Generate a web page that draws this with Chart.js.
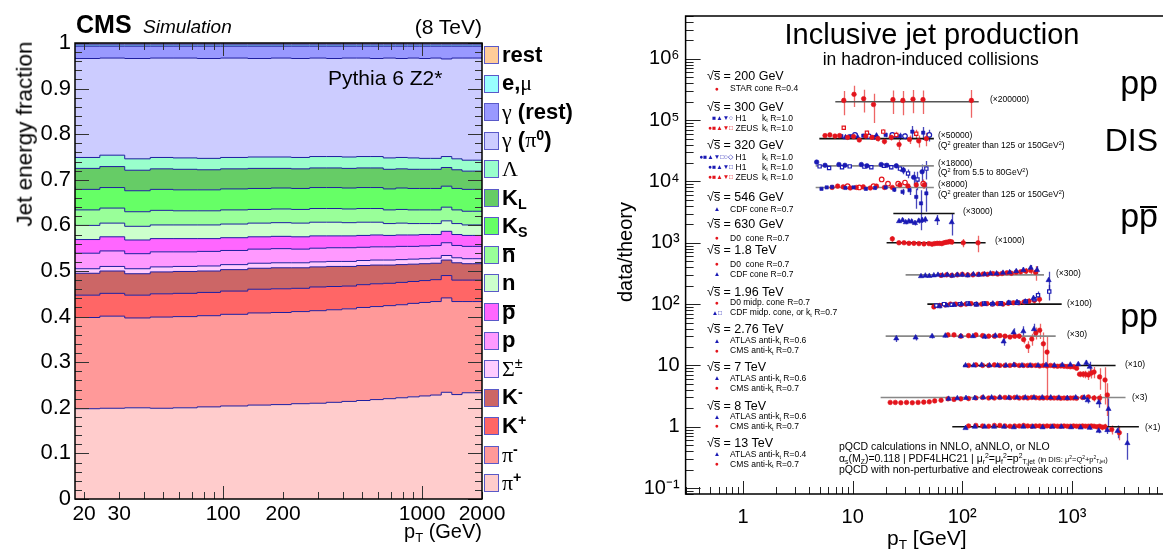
<!DOCTYPE html>
<html>
<head>
<meta charset="utf-8">
<title>Jet energy fractions / Inclusive jet production</title>
<script src="https://cdn.jsdelivr.net/npm/chart.js@4.4.1/dist/chart.umd.min.js"></script>
<style>
html,body{margin:0;padding:0;}
body{width:1163px;height:552px;overflow:hidden;background:#fff;position:relative;font-family:"Liberation Sans",Arial,Helvetica,sans-serif;color:#000;}
canvas{position:absolute;top:0;}
.t{position:absolute;white-space:nowrap;line-height:1;}
.g{font-family:"Liberation Serif","DejaVu Serif",serif;font-weight:normal;}
.sup{font-size:65%;position:relative;top:-0.55em;}
.sub{font-size:65%;position:relative;top:0.3em;}
.ov{position:relative;}
.ov::after{content:"";position:absolute;left:6%;right:6%;top:0.3em;border-top:2px solid #000;}
.rad{position:relative;}
.rad::after{content:"";position:absolute;left:0;right:0;top:0.16em;border-top:1px solid #000;}
.box{position:absolute;width:15px;height:18px;border:1px solid #5a5ac8;box-sizing:border-box;}
</style>
</head>
<body>
<canvas id="cL" width="600" height="552" style="left:0"></canvas>
<canvas id="cR" width="600" height="552" style="left:600px"></canvas>
<script>
// ================= LEFT PANEL DATA (CMS simulation, jet energy fractions) =================
const ptEdges = [18, 24, 32, 43, 56, 74, 97, 133, 174, 220, 272, 330, 395, 468, 548, 638, 737, 846, 967, 1101, 1248, 1410, 1588, 1784, 2000];
const fracPiPlus  = [0.201,0.198,0.199,0.200,0.199,0.200,0.202,0.204,0.206,0.207,0.209,0.210,0.212,0.214,0.216,0.218,0.220,0.222,0.224,0.226,0.228,0.234,0.229,0.233];
const fracPiMinus = [0.200,0.200,0.202,0.197,0.200,0.200,0.200,0.201,0.202,0.202,0.202,0.203,0.203,0.203,0.204,0.204,0.204,0.204,0.205,0.205,0.205,0.207,0.204,0.200];
const fracKPlus   = [0.048,0.049,0.050,0.050,0.051,0.051,0.051,0.051,0.052,0.052,0.051,0.052,0.051,0.050,0.050,0.050,0.049,0.049,0.048,0.048,0.048,0.049,0.047,0.047];
const fracKMinus  = [0.049,0.048,0.049,0.047,0.048,0.048,0.047,0.047,0.046,0.046,0.045,0.044,0.044,0.043,0.042,0.041,0.040,0.039,0.038,0.037,0.036,0.034,0.038,0.036];
const fracSigma   = [0.011,0.010,0.010,0.011,0.011,0.011,0.011,0.011,0.011,0.011,0.011,0.011,0.011,0.011,0.011,0.011,0.011,0.011,0.011,0.011,0.011,0.010,0.011,0.011];
const fracP       = [0.033,0.034,0.034,0.033,0.033,0.032,0.032,0.031,0.031,0.031,0.030,0.030,0.030,0.030,0.029,0.029,0.029,0.029,0.028,0.028,0.028,0.028,0.027,0.027];
const fracPbar    = [0.031,0.030,0.031,0.030,0.029,0.029,0.028,0.028,0.027,0.027,0.027,0.027,0.026,0.026,0.026,0.026,0.025,0.025,0.025,0.025,0.024,0.025,0.024,0.024];
const fracN       = [0.031,0.031,0.030,0.030,0.030,0.030,0.030,0.030,0.030,0.030,0.030,0.030,0.030,0.029,0.029,0.028,0.026,0.026,0.025,0.024,0.024,0.023,0.024,0.023];
const fracNbar    = [0.037,0.034,0.033,0.032,0.032,0.031,0.031,0.031,0.030,0.030,0.030,0.030,0.030,0.030,0.030,0.030,0.030,0.030,0.030,0.030,0.030,0.030,0.030,0.030];
const fracKS      = [0.044,0.045,0.045,0.046,0.046,0.046,0.046,0.046,0.046,0.046,0.046,0.046,0.046,0.046,0.046,0.046,0.046,0.047,0.047,0.047,0.047,0.046,0.047,0.048];
const fracKL      = [0.052,0.046,0.046,0.045,0.045,0.045,0.044,0.044,0.044,0.043,0.043,0.043,0.043,0.043,0.043,0.043,0.043,0.042,0.042,0.042,0.042,0.041,0.041,0.040];
const fracLambda  = [0.026,0.024,0.025,0.025,0.025,0.025,0.025,0.025,0.025,0.025,0.025,0.025,0.025,0.025,0.025,0.025,0.025,0.025,0.025,0.024,0.024,0.024,0.024,0.024];
const fracGamPi0  = [0.206,0.217,0.213,0.220,0.218,0.219,0.219,0.218,0.216,0.217,0.217,0.216,0.215,0.217,0.216,0.215,0.219,0.217,0.219,0.219,0.220,0.214,0.221,0.224];
const fracGamRest = [0.024,0.027,0.026,0.027,0.026,0.026,0.027,0.026,0.027,0.026,0.027,0.026,0.027,0.026,0.026,0.027,0.026,0.027,0.026,0.027,0.026,0.028,0.026,0.026];
const fracEMu     = [0.003,0.003,0.003,0.003,0.003,0.003,0.003,0.003,0.003,0.003,0.003,0.003,0.003,0.003,0.003,0.003,0.003,0.003,0.003,0.003,0.003,0.003,0.003,0.003];
const fracRest    = [0.004,0.004,0.004,0.004,0.004,0.004,0.004,0.004,0.004,0.004,0.004,0.004,0.004,0.004,0.004,0.004,0.004,0.004,0.004,0.004,0.004,0.004,0.004,0.004];
const yTickValsL = [0,0.1,0.2,0.3,0.4,0.5,0.6,0.7,0.8,0.9,1];
const yTickLabsL = ['0','0.1','0.2','0.3','0.4','0.5','0.6','0.7','0.8','0.9','1'];
const xTickValsL = [20,30,100,200,1000,2000];
const xTickLabsL = ['20','30','100','200','1000','2000'];

// species, stacked bottom -> top
const speciesFrac = [fracPiPlus,fracPiMinus,fracKPlus,fracKMinus,fracSigma,fracP,fracPbar,fracN,fracNbar,fracKS,fracKL,fracLambda,fracGamPi0,fracGamRest,fracEMu,fracRest];
const speciesName = ['π+','π-','K+','K-','Σ±','p','p̄','n','n̄','K_S','K_L','Λ','γ (π0)','γ (rest)','e,μ','rest'];
const speciesColor = ['#ffcccc','#ff9999','#ff6666','#cc6666','#ffccff','#ff99ff','#ff66ff','#ccffcc','#99ff99','#66ff66','#66cc66','#99ffcc','#ccccff','#9999ff','#99ffff','#ffcc99'];
const speciesHTML = [
 '<span class="g">π</span><span class="sup"><b>+</b></span>',
 '<span class="g">π</span><span class="sup"><b>-</b></span>',
 '<b>K</b><span class="sup"><b>+</b></span>',
 '<b>K</b><span class="sup"><b>-</b></span>',
 '<span class="g">Σ</span><span class="sup">±</span>',
 '<b>p</b>',
 '<b class="ov">p</b>',
 '<b>n</b>',
 '<b class="ov">n</b>',
 '<b>K<span class="sub">S</span></b>',
 '<b>K<span class="sub">L</span></b>',
 '<span class="g">Λ</span>',
 '<span class="g">γ</span> <b>(</b><span class="g">π</span><span class="sup"><b>0</b></span><b>)</b>',
 '<span class="g">γ</span> <b>(rest)</b>',
 '<b>e,</b><span class="g">μ</span>',
 '<b>rest</b>'
];

// ================= RIGHT PANEL DATA (data/theory, inclusive jets) =================
// pT [GeV], ratio data/theory, uncertainty on the ratio; plotted ratio x scale factor
const STAR200_pt = [8.3, 10.3, 12.6, 15.5, 23.3, 28.7, 35.5, 43.8, 121];
const STAR200_r  = [1.05, 1.32, 1.12, 0.9, 1.08, 1.05, 1.1, 1.08, 1.05];
const STAR200_e  = [0.45, 0.5, 0.45, 0.45, 0.45, 0.45, 0.45, 0.45, 0.5];

const H1_300_pt  = [7.9, 9.5, 12.5, 15.5, 20, 27, 35, 44];
const H1_300_r   = [1.1, 1.1, 1.12, 1.05, 1.15, 1.1, 1.3, 1.25];
const H1_300_e   = [0.06, 0.06, 0.08, 0.08, 0.1, 0.15, 0.3, 0.3];
const H1o_300_pt = [10.5, 14, 23, 30, 50];
const H1o_300_r  = [1.15, 1.1, 1.15, 1.1, 1.15];
const H1o_300_e  = [0.08, 0.08, 0.1, 0.12, 0.25];
const H1t_300_pt = [8.6, 11, 16.5, 25];
const H1t_300_r  = [1.05, 1.08, 1.12, 1.1];
const H1t_300_e  = [0.06, 0.07, 0.08, 0.1];
const ZEUS_300_pt = [5.6, 6.2, 6.9, 7.6, 9.0, 10.2, 11.5, 13.2, 15.0, 17.0, 19.5, 22.5, 26.5, 33, 40, 47];
const ZEUS_300_r  = [1.12, 1.15, 1.1, 1.12, 1.05, 1.08, 0.95, 1.1, 1.05, 1.0, 0.9, 1.05, 0.8, 0.97, 0.92, 1.0];
const ZEUS_300_e  = [0.06, 0.06, 0.06, 0.06, 0.06, 0.07, 0.07, 0.08, 0.08, 0.1, 0.1, 0.12, 0.15, 0.15, 0.2, 0.25];
const ZEUSo_300_pt = [8.3, 13.5, 19, 25, 38];
const ZEUSo_300_r  = [1.5, 1.25, 1.3, 1.15, 1.2];
const ZEUSo_300_e  = [0.1, 0.1, 0.12, 0.15, 0.2];

const H1a_320_pt = [4.7, 5.6, 7.5, 8.5, 12, 13.5, 18.2, 20.5, 25, 29, 36, 43];
const H1a_320_r  = [1.15, 1.02, 1.05, 1.02, 1.05, 1.0, 1.05, 1.02, 1.0, 0.85, 0.65, 0.8];
const H1a_320_e  = [0.04, 0.04, 0.04, 0.04, 0.05, 0.05, 0.06, 0.06, 0.08, 0.12, 0.15, 0.25];
const H1b_320_pt = [5.0, 6.1, 8.0, 9.4, 12.8, 14.8, 19.3, 22.5, 27, 32, 39, 47];
const H1b_320_r  = [0.98, 0.92, 0.95, 0.98, 0.97, 0.95, 1.0, 0.95, 0.9, 0.75, 0.6, 0.9];
const H1b_320_e  = [0.04, 0.05, 0.05, 0.05, 0.05, 0.06, 0.06, 0.07, 0.1, 0.12, 0.2, 0.3];

const ZEUS_320_pt = [6.5, 7.3, 8.2, 9.5, 10.8, 12.5, 14.5, 16.5, 19.5, 23, 27, 32, 38, 45];
const ZEUS_320_r  = [1.0, 1.05, 1.02, 0.98, 1.0, 1.02, 0.98, 1.05, 1.0, 1.0, 1.1, 1.05, 1.1, 1.1];
const ZEUS_320_e  = [0.04, 0.04, 0.04, 0.04, 0.04, 0.04, 0.05, 0.05, 0.06, 0.07, 0.08, 0.1, 0.12, 0.15];
const ZEUSo_320_pt = [9, 11.5, 15.5, 18.4, 21, 26, 30, 44];
const ZEUSo_320_r  = [1.05, 1.0, 1.05, 1.35, 1.15, 1.15, 1.2, 1.15];
const ZEUSo_320_e  = [0.05, 0.05, 0.06, 0.08, 0.08, 0.1, 0.12, 0.2];
const H1hq_320_pt = [5.2, 5.8, 6.5, 8.6, 10.2, 13.2, 16, 20, 24, 28.5, 33, 38, 42, 47];
const H1hq_320_r  = [0.95, 1.0, 1.02, 0.98, 1.0, 0.95, 0.98, 1.0, 0.92, 0.85, 0.9, 0.7, 0.55, 0.8];
const H1hq_320_e  = [0.04, 0.04, 0.04, 0.04, 0.05, 0.05, 0.06, 0.07, 0.08, 0.1, 0.15, 0.25, 0.35, 0.4];

const CDF546_pt = [26.5, 28.5, 30.5, 32.5, 34.5, 37, 40, 43, 46, 59, 80];
const CDF546_r  = [0.75, 0.78, 0.72, 0.75, 0.74, 0.7, 0.76, 0.78, 0.8, 0.8, 0.72];
const CDF546_e  = [0.05, 0.05, 0.05, 0.05, 0.06, 0.06, 0.07, 0.08, 0.09, 0.15, 0.28];

const D0630_pt = [23, 26.4, 29.4, 32.6, 36.2, 40.2, 44.7, 49.6, 53, 56, 59, 62, 65, 68, 71, 74, 77, 80, 102, 139];
const D0630_r  = [1.16, 1.0, 1.0, 0.98, 0.98, 0.97, 0.96, 0.97, 0.95, 0.97, 0.98, 0.98, 0.97, 1.0, 1.02, 1.03, 1.05, 1.03, 1.0, 1.0];
const D0630_e  = [0.12, 0.08, 0.06, 0.06, 0.05, 0.05, 0.05, 0.05, 0.06, 0.06, 0.06, 0.06, 0.07, 0.07, 0.08, 0.08, 0.1, 0.1, 0.15, 0.3];

const D01800_pt = [64, 72, 80, 90, 100, 112, 125, 140, 155, 170, 190, 210, 230, 255, 280, 310, 340, 380, 420, 465];
const D01800_r  = [0.98, 1.0, 0.98, 1.0, 1.02, 1.0, 1.0, 1.02, 1.03, 1.02, 1.05, 1.03, 1.05, 1.08, 1.06, 1.1, 1.12, 1.15, 1.18, 1.1];
const D01800_e  = [0.05, 0.05, 0.05, 0.05, 0.05, 0.05, 0.05, 0.05, 0.06, 0.06, 0.06, 0.07, 0.07, 0.08, 0.09, 0.1, 0.12, 0.14, 0.18, 0.3];
const CDF1800_pt = [42, 46, 50, 55, 60, 66, 73, 81, 90, 100, 112, 126, 142, 160, 180, 205, 235, 270, 310, 360, 420, 480, 612];
const CDF1800_r  = [0.95, 0.97, 0.96, 0.98, 1.0, 0.98, 1.0, 0.97, 1.0, 1.0, 0.98, 1.02, 1.0, 1.02, 1.05, 1.05, 1.08, 1.1, 1.15, 1.2, 1.3, 1.2, 0.82];
const CDF1800_e  = [0.04, 0.04, 0.04, 0.04, 0.04, 0.04, 0.04, 0.04, 0.04, 0.04, 0.05, 0.05, 0.05, 0.06, 0.06, 0.07, 0.08, 0.09, 0.1, 0.12, 0.15, 0.2, 0.3];

const D01960_pt = [55, 62, 70, 78, 87, 97, 108, 120, 134, 150, 168, 188, 210, 235, 262, 292, 326, 364, 406, 453, 505];
const D01960_r  = [0.9, 0.95, 0.97, 1.0, 1.0, 0.98, 1.0, 1.02, 1.0, 1.0, 1.02, 1.0, 1.02, 1.0, 1.03, 1.05, 1.05, 1.08, 1.12, 1.15, 1.2];
const D01960_e  = [0.06, 0.05, 0.05, 0.05, 0.05, 0.05, 0.05, 0.05, 0.05, 0.05, 0.05, 0.05, 0.06, 0.06, 0.07, 0.08, 0.09, 0.1, 0.12, 0.15, 0.2];
const CDFt1960_pt = [62, 72, 84, 98, 115, 135, 160, 190, 225, 265, 315, 375, 445];
const CDFt1960_r  = [0.92, 0.95, 0.97, 1.0, 1.0, 0.98, 1.0, 1.02, 1.0, 1.05, 1.08, 1.1, 1.25];
const CDFt1960_e  = [0.06, 0.05, 0.05, 0.05, 0.05, 0.05, 0.05, 0.06, 0.06, 0.07, 0.08, 0.1, 0.15];
const CDFs1960_pt = [58, 68, 80, 95, 112, 133, 158, 188, 224, 267, 318, 380, 454, 490, 620];
const CDFs1960_r  = [0.95, 1.0, 0.98, 1.0, 1.02, 1.0, 1.02, 1.0, 1.03, 1.05, 1.05, 1.1, 1.2, 1.4, 1.6];
const CDFs1960_e  = [0.06, 0.05, 0.05, 0.05, 0.05, 0.05, 0.05, 0.05, 0.06, 0.06, 0.07, 0.08, 0.12, 0.2, 0.45];

const ATLAS2760_pt = [25, 37.5, 53, 70, 97, 125, 160, 200, 238, 293, 360, 450];
const ATLAS2760_r  = [0.92, 0.95, 1.0, 1.02, 1.0, 1.0, 0.98, 1.02, 0.82, 1.15, 1.2, 1.3];
const ATLAS2760_e  = [0.12, 0.1, 0.08, 0.07, 0.06, 0.06, 0.08, 0.1, 0.12, 0.2, 0.25, 0.3];
const CMS2760_pt = [74, 84, 97, 114, 133, 153, 174, 196, 220, 245, 272, 300, 330, 362, 395, 430, 468, 507, 548, 592];
const CMS2760_r  = [1.05, 1.05, 1.0, 1.02, 1.05, 1.02, 1.0, 1.0, 1.02, 1.0, 0.97, 1.0, 1.0, 0.88, 0.68, 0.9, 1.13, 1.25, 0.75, 0.55];
const CMS2760_e  = [0.05, 0.05, 0.05, 0.05, 0.05, 0.05, 0.05, 0.06, 0.06, 0.07, 0.08, 0.09, 0.1, 0.12, 0.15, 0.2, 0.25, 0.35, 0.4, 0.46];

const CMS7000_pt = [114, 133, 153, 174, 196, 220, 245, 272, 300, 330, 362, 395, 430, 468, 507, 548, 592, 638, 686, 737, 790, 846, 905, 967, 1032, 1101, 1172, 1248, 1327, 1410, 1497, 1588, 1784, 2000];
const CMS7000_r  = [1.0, 1.02, 1.0, 1.0, 1.02, 1.0, 1.0, 1.0, 1.02, 1.0, 1.0, 1.0, 1.0, 1.0, 0.98, 1.0, 0.98, 1.0, 0.98, 0.97, 0.98, 0.97, 0.96, 0.95, 0.95, 0.9, 0.72, 0.72, 0.72, 0.7, 0.75, 0.78, 0.65, 0.58];
const CMS7000_e  = [0.04, 0.03, 0.03, 0.03, 0.03, 0.03, 0.03, 0.03, 0.03, 0.03, 0.03, 0.03, 0.03, 0.03, 0.03, 0.03, 0.03, 0.03, 0.04, 0.04, 0.04, 0.04, 0.05, 0.05, 0.06, 0.07, 0.08, 0.09, 0.1, 0.12, 0.14, 0.16, 0.25, 0.35];
const ATLAS7000_pt = [107, 127, 150, 177, 210, 250, 295, 350, 415, 490, 580, 690, 815, 965, 1140, 1350, 1450];
const ATLAS7000_r  = [1.0, 1.0, 1.02, 1.0, 1.0, 1.0, 1.02, 1.0, 1.0, 1.0, 1.02, 1.0, 1.02, 1.03, 1.05, 1.1, 0.95];
const ATLAS7000_e  = [0.04, 0.03, 0.03, 0.03, 0.03, 0.03, 0.03, 0.03, 0.03, 0.03, 0.04, 0.04, 0.05, 0.06, 0.08, 0.12, 0.2];

const CMS8000_pt = [22, 24.5, 27.5, 31, 35, 39.5, 44.5, 50, 56, 64, 74, 84, 97, 114, 133, 153, 174, 196, 220, 245, 272, 300, 330, 362, 395, 430, 468, 507, 548, 592, 638, 686, 737, 790, 846, 905, 967, 1032, 1101, 1248, 1410, 1588, 1784, 2100];
const CMS8000_r  = [0.83, 0.83, 0.82, 0.83, 0.82, 0.83, 0.84, 0.85, 0.88, 0.9, 0.95, 0.93, 0.95, 0.96, 0.98, 1.0, 0.98, 0.98, 1.0, 1.0, 0.99, 1.0, 0.98, 0.99, 0.98, 1.0, 0.99, 0.98, 0.98, 0.99, 0.98, 0.98, 0.98, 0.97, 0.98, 0.97, 0.98, 0.98, 0.97, 1.0, 1.02, 0.98, 0.98, 1.1];
const CMS8000_e  = [0.05, 0.05, 0.05, 0.05, 0.05, 0.05, 0.05, 0.05, 0.05, 0.05, 0.05, 0.05, 0.04, 0.04, 0.04, 0.04, 0.03, 0.03, 0.03, 0.03, 0.03, 0.03, 0.03, 0.03, 0.03, 0.03, 0.03, 0.03, 0.03, 0.03, 0.03, 0.03, 0.04, 0.04, 0.04, 0.04, 0.05, 0.05, 0.06, 0.07, 0.09, 0.12, 0.16, 0.6];
const ATLAS8000_pt = [75, 90, 108, 130, 155, 185, 220, 265, 315, 375, 450, 535, 640, 760, 905, 1080, 1290, 1390, 1750, 2150];
const ATLAS8000_r  = [0.95, 0.97, 0.98, 0.98, 1.0, 1.0, 1.0, 0.99, 1.0, 1.0, 1.0, 1.0, 1.0, 0.99, 0.98, 1.0, 1.0, 0.9, 0.83, 0.65];
const ATLAS8000_e  = [0.05, 0.04, 0.04, 0.04, 0.03, 0.03, 0.03, 0.03, 0.03, 0.03, 0.03, 0.03, 0.04, 0.04, 0.05, 0.06, 0.08, 0.1, 0.15, 0.32];

const ATLAS13000_pt = [107, 130, 160, 195, 240, 295, 360, 440, 540, 660, 800, 980, 1200, 1450, 1750, 2100, 2600, 3200];
const ATLAS13000_r  = [0.95, 1.0, 1.0, 1.0, 1.0, 0.98, 1.0, 1.0, 0.98, 1.0, 1.0, 0.98, 0.97, 0.96, 0.86, 0.88, 0.85, 0.54];
const ATLAS13000_e  = [0.05, 0.04, 0.04, 0.04, 0.04, 0.04, 0.04, 0.04, 0.04, 0.04, 0.04, 0.05, 0.05, 0.06, 0.08, 0.12, 0.2, 0.25];
const CMS13000_pt = [114, 133, 153, 174, 196, 220, 245, 272, 300, 330, 362, 395, 430, 468, 507, 548, 592, 638, 686, 737, 790, 846, 905, 967, 1032, 1101, 1172, 1248, 1327, 1410, 1497, 1588, 1684, 1784, 1890, 2000, 2300, 2700];
const CMS13000_r  = [1.03, 1.05, 1.03, 1.02, 1.05, 1.05, 1.03, 1.02, 1.03, 1.03, 1.05, 1.03, 1.02, 1.03, 1.03, 1.02, 1.03, 1.02, 1.03, 1.02, 1.02, 1.03, 1.02, 1.02, 1.03, 1.02, 1.02, 1.03, 1.02, 1.02, 1.03, 1.02, 1.0, 1.02, 0.98, 1.0, 0.9, 0.8];
const CMS13000_e  = [0.04, 0.03, 0.03, 0.03, 0.03, 0.03, 0.03, 0.03, 0.03, 0.03, 0.03, 0.03, 0.03, 0.03, 0.03, 0.03, 0.03, 0.03, 0.03, 0.03, 0.03, 0.03, 0.03, 0.03, 0.04, 0.04, 0.04, 0.05, 0.05, 0.06, 0.06, 0.07, 0.08, 0.09, 0.1, 0.12, 0.15, 0.2];

// theory reference lines: scale factor and pT range
const refScale = [200000, 50000, 18000, 8000, 3000, 1000, 300, 100, 30, 10, 3, 1];
const refFrom  = [6.95, 4.97, 4.6, 4.6, 23.5, 20.4, 30.4, 48, 20, 102, 18, 81];
const refTo    = [141, 55, 55, 55, 85, 163, 555, 805, 710, 2495, 3075, 4070];
const yTickValsR = [0.1, 1, 10, 100, 1000, 10000, 100000, 1000000];
const yTickLabsR = ['10⁻¹', '1', '10', '10²', '10³', '10⁴', '10⁵', '10⁶'];
const xTickValsR = [1, 10, 100, 1000];
const xTickLabsR = ['1', '10', '10²', '10³'];

// ================= STYLES =================
const FONT = "'Liberation Sans', Arial, Helvetica, sans-serif";
Chart.defaults.font.family = FONT;
const RED = '#e3141c', BLUE = '#1a1ab4';
const refColor = ['#555','#111','#888','#888','#111','#111','#888','#111','#888','#111','#888','#111'];

const seriesR = [
 {pt:STAR200_pt, r:STAR200_r, e:STAR200_e, k:200000, c:RED, ps:'circle'},
 {pt:ZEUS_300_pt, r:ZEUS_300_r, e:ZEUS_300_e, k:50000, c:RED, ps:'circle'},
 {pt:ZEUSo_300_pt, r:ZEUSo_300_r, e:ZEUSo_300_e, k:50000, c:RED, ps:'rect', open:true},
 {pt:H1_300_pt, r:H1_300_r, e:H1_300_e, k:50000, c:BLUE, ps:'rect'},
 {pt:H1o_300_pt, r:H1o_300_r, e:H1o_300_e, k:50000, c:BLUE, ps:'circle', open:true},
 {pt:H1t_300_pt, r:H1t_300_r, e:H1t_300_e, k:50000, c:BLUE, ps:'triangle', rad:3},
 {pt:H1a_320_pt, r:H1a_320_r, e:H1a_320_e, k:18000, c:BLUE, ps:'circle'},
 {pt:H1b_320_pt, r:H1b_320_r, e:H1b_320_e, k:18000, c:BLUE, ps:'rect', open:true},
 {pt:H1hq_320_pt, r:H1hq_320_r, e:H1hq_320_e, k:8000, c:BLUE, ps:'rect'},
 {pt:ZEUS_320_pt, r:ZEUS_320_r, e:ZEUS_320_e, k:8000, c:RED, ps:'circle'},
 {pt:ZEUSo_320_pt, r:ZEUSo_320_r, e:ZEUSo_320_e, k:8000, c:RED, ps:'circle', open:true},
 {pt:CDF546_pt, r:CDF546_r, e:CDF546_e, k:3000, c:BLUE, ps:'triangle', rad:3},
 {pt:D0630_pt, r:D0630_r, e:D0630_e, k:1000, c:RED, ps:'circle'},
 {pt:CDF1800_pt, r:CDF1800_r, e:CDF1800_e, k:300, c:BLUE, ps:'triangle', rad:3},
 {pt:D01800_pt, r:D01800_r, e:D01800_e, k:300, c:RED, ps:'circle'},
 {pt:CDFt1960_pt, r:CDFt1960_r, e:CDFt1960_e, k:100, c:BLUE, ps:'triangle', rad:3},
 {pt:CDFs1960_pt, r:CDFs1960_r, e:CDFs1960_e, k:100, c:BLUE, ps:'rect', open:true},
 {pt:D01960_pt, r:D01960_r, e:D01960_e, k:100, c:RED, ps:'circle'},
 {pt:ATLAS2760_pt, r:ATLAS2760_r, e:ATLAS2760_e, k:30, c:BLUE, ps:'triangle', rad:3},
 {pt:CMS2760_pt, r:CMS2760_r, e:CMS2760_e, k:30, c:RED, ps:'circle'},
 {pt:ATLAS7000_pt, r:ATLAS7000_r, e:ATLAS7000_e, k:10, c:BLUE, ps:'triangle', rad:3},
 {pt:CMS7000_pt, r:CMS7000_r, e:CMS7000_e, k:10, c:RED, ps:'circle'},
 {pt:ATLAS8000_pt, r:ATLAS8000_r, e:ATLAS8000_e, k:3, c:BLUE, ps:'triangle', rad:3},
 {pt:CMS8000_pt, r:CMS8000_r, e:CMS8000_e, k:3, c:RED, ps:'circle'},
 {pt:ATLAS13000_pt, r:ATLAS13000_r, e:ATLAS13000_e, k:1, c:BLUE, ps:'triangle', rad:3},
 {pt:CMS13000_pt, r:CMS13000_r, e:CMS13000_e, k:1, c:RED, ps:'circle'}
];

// ================= LEFT CHART =================
function stepData(fr){
  const d = fr.map((v,i)=>({x: ptEdges[i], y: v}));
  d.push({x: ptEdges[ptEdges.length-1], y: fr[fr.length-1]});
  return d;
}
const axesL = {id:'axesL', afterDraw(c){
  const {ctx, chartArea:a} = c; const x = c.scales.x, y = c.scales.y;
  ctx.save(); ctx.strokeStyle = '#333'; ctx.lineWidth = 1; ctx.beginPath();
  for (let i=0;i<=50;i++){
    const py = Math.round(y.getPixelForValue(i/50))+0.5, L = (i%5===0)?14:7;
    ctx.moveTo(a.left,py); ctx.lineTo(a.left+L,py); ctx.moveTo(a.right,py); ctx.lineTo(a.right-L,py);
  }
  for (const d of [10,100,1000]) for (let m=1;m<=9;m++){
    const v = m*d; if (v < x.min || v > x.max) continue;
    const px = Math.round(x.getPixelForValue(v))+0.5, L = (m===1)?13:7;
    ctx.moveTo(px,a.bottom); ctx.lineTo(px,a.bottom-L); ctx.moveTo(px,a.top); ctx.lineTo(px,a.top+L);
  }
  ctx.stroke();
  ctx.lineWidth = 1.5; ctx.strokeStyle = '#000';
  ctx.strokeRect(a.left, a.top, a.right-a.left, a.bottom-a.top);
  ctx.restore();
}};
new Chart(document.getElementById('cL'), {
  type: 'line',
  data: { datasets: speciesFrac.map((fr,i)=>({
    label: speciesName[i], data: stepData(fr), stepped: 'after',
    fill: i===0 ? 'origin' : '-1', backgroundColor: speciesColor[i],
    borderColor: '#1e1ea0', borderWidth: 1, pointRadius: 0, tension: 0
  }))},
  options: {
    responsive: false, animation: false, events: [],
    layout: {padding: {left: 0, right: 118, top: 43, bottom: 0}},
    plugins: {legend: {display: false}, tooltip: {enabled: false}},
    scales: {
      x: {type: 'logarithmic', min: 18, max: 2000,
          grid: {display: false, drawTicks: false}, border: {display: false},
          afterBuildTicks: s => { s.ticks = xTickValsL.map(v=>({value: v})); },
          afterFit: s => { s.height = 53; },
          ticks: {autoSkip: false, maxRotation: 0, padding: 5, color: '#000', font: {size: 21, lineHeight: 1},
                  callback: (v,i) => xTickLabsL[i]}},
      y: {type: 'linear', stacked: true, min: 0, max: 1,
          grid: {display: false, drawTicks: false}, border: {display: false},
          afterBuildTicks: s => { s.ticks = yTickValsL.map(v=>({value: v})); },
          afterFit: s => { s.width = 75; },
          ticks: {autoSkip: false, padding: 4, color: '#000', font: {size: 22, lineHeight: 1},
                  callback: (v,i) => yTickLabsL[i]}}
    }
  },
  plugins: [axesL]
});

// ================= RIGHT CHART =================
const errBars = {id:'errBars', beforeDatasetsDraw(c){
  const {ctx} = c; const x = c.scales.x, y = c.scales.y;
  ctx.save(); ctx.lineWidth = 1.3;
  c.data.datasets.forEach(ds => {
    if (!ds.errs) return;
    ctx.strokeStyle = ds.errColor; ctx.beginPath();
    ds.data.forEach((p,j) => {
      const e = ds.errs[j]*ds.kScale;
      const lo = Math.max(p.y - e, y.min);
      const px = Math.round(x.getPixelForValue(p.x))+0.5;
      ctx.moveTo(px, y.getPixelForValue(p.y + e)); ctx.lineTo(px, y.getPixelForValue(lo));
    });
    ctx.stroke();
  });
  ctx.restore();
}};
const axesR = {id:'axesR', afterDraw(c){
  const {ctx, chartArea:a} = c; const x = c.scales.x, y = c.scales.y;
  ctx.save(); ctx.strokeStyle = '#222'; ctx.lineWidth = 1; ctx.beginPath();
  for (let d=-2; d<=7; d++) for (let m=1;m<=9;m++){
    const v = m*Math.pow(10,d); if (v < y.min || v > y.max) continue;
    const py = Math.round(y.getPixelForValue(v))+0.5, L = (m===1)?15:8;
    ctx.moveTo(a.left,py); ctx.lineTo(a.left+L,py);
  }
  for (let d=-1; d<=4; d++) for (let m=1;m<=9;m++){
    const v = m*Math.pow(10,d); if (v < x.min || v > x.max) continue;
    const px = Math.round(x.getPixelForValue(v))+0.5, L = (m===1)?13:7;
    ctx.moveTo(px,a.bottom); ctx.lineTo(px,a.bottom-L);
  }
  ctx.stroke();
  ctx.lineWidth = 1.5; ctx.strokeStyle = '#000'; ctx.beginPath();
  ctx.moveTo(a.right+10, a.top); ctx.lineTo(a.left, a.top); ctx.lineTo(a.left, a.bottom); ctx.lineTo(a.right+10, a.bottom);
  ctx.stroke(); ctx.restore();
}};
const dsRef = refScale.map((k,i)=>({
  type: 'line', data: [{x: refFrom[i], y: k}, {x: refTo[i], y: k}], showLine: true,
  borderColor: refColor[i], borderWidth: 1.6, pointRadius: 0, order: 5, fill: false
}));
const dsPts = seriesR.map(s=>({
  type: 'scatter', data: s.pt.map((p,i)=>({x: p, y: s.r[i]*s.k})),
  errs: s.e, kScale: s.k, errColor: s.c===RED ? 'rgba(232,50,50,0.75)' : 'rgba(26,26,170,0.8)',
  pointStyle: s.ps, pointRadius: s.rad || 2.3, pointRotation: s.rot || 0,
  pointBackgroundColor: s.open ? '#fff' : s.c, pointBorderColor: s.c, pointBorderWidth: s.open ? 1.2 : 0.6,
  order: 0
}));
new Chart(document.getElementById('cR'), {
  type: 'scatter',
  data: {datasets: dsPts.concat(dsRef)},
  options: {
    responsive: false, animation: false, events: [],
    layout: {padding: {left: 0, right: 18.3, top: 11.7, bottom: 0}},
    plugins: {legend: {display: false}, tooltip: {enabled: false}},
    scales: {
      x: {type: 'logarithmic', min: 0.3, max: 10000,
          grid: {display: false, drawTicks: false}, border: {display: false},
          afterBuildTicks: s => { s.ticks = xTickValsR.map(v=>({value: v})); },
          afterFit: s => { s.height = 58; },
          ticks: {autoSkip: false, maxRotation: 0, padding: 13, color: '#000', font: {size: 20, lineHeight: 1},
                  callback: (v,i) => xTickLabsR[i]}},
      y: {type: 'logarithmic', min: 0.08, max: 5e6,
          grid: {display: false, drawTicks: false}, border: {display: false},
          afterBuildTicks: s => { s.ticks = yTickValsR.map(v=>({value: v})); },
          afterFit: s => { s.width = 85.6; },
          ticks: {autoSkip: false, padding: 6, color: '#000', font: {size: 20, lineHeight: 1},
                  callback: (v,i) => yTickLabsR[i]}}
    }
  },
  plugins: [errBars, axesR]
});

// ================= TEXT OVERLAYS =================
function put(html, x, base, size, o){
  o = o || {};
  const d = document.createElement('div'); d.className = 't'; d.innerHTML = html;
  d.style.fontSize = size+'px'; d.style.top = (base - 0.85*size)+'px';
  if (o.align === 'right') d.style.right = (1163 - x)+'px';
  else { d.style.left = x+'px'; if (o.align === 'center') d.style.transform = 'translateX(-50%)'; }
  if (o.bold) d.style.fontWeight = 'bold';
  if (o.italic) d.style.fontStyle = 'italic';
  if (o.color) d.style.color = o.color;
  document.body.appendChild(d); return d;
}
function putRot(html, cx, cy, size){
  const d = document.createElement('div'); d.className = 't'; d.innerHTML = html;
  d.style.fontSize = size+'px'; d.style.left = cx+'px'; d.style.top = cy+'px';
  d.style.transform = 'translate(-50%,-50%) rotate(-90deg)';
  document.body.appendChild(d); return d;
}
// left panel texts
put('CMS', 76, 33.5, 25, {bold: true});
put('Simulation', 143, 33.5, 19, {italic: true});
put('(8 TeV)', 482, 34, 21, {align: 'right'});
put('Pythia 6 Z2*', 328, 85, 21);
putRot('Jet energy fraction', 25, 134, 22.5);
put('p<span class="sub">T</span> (GeV)', 482, 538, 20, {align: 'right'});
// left legend (top -> bottom)
for (let j=0; j<16; j++){
  const i = 15 - j; const yc = 55 + j*28.55;
  const b = document.createElement('div'); b.className = 'box';
  b.style.left = '484px'; b.style.top = (yc-9)+'px'; b.style.background = speciesColor[i];
  document.body.appendChild(b);
  put(speciesHTML[i], 502, yc+7.5, 22);
}
// right panel texts
put('Inclusive jet production', 932, 45, 29, {align: 'center'});
put('in hadron-induced collisions', 822.7, 66, 17.5);
put('pp', 1158, 93.5, 34, {align: 'right'});
put('DIS', 1158, 150.7, 32, {align: 'right'});
put('p<span class="ov">p</span>', 1158, 226.5, 34, {align: 'right'});
put('pp', 1158, 326.7, 34, {align: 'right'});
putRot('data/theory', 625, 252, 20);
put('p<span class="sub">T</span> [GeV]', 887, 545, 21);
const kLabels = [
 ['(×200000)', 990, 99], ['(×50000)', 938, 135], ['(Q<span class="sup">2</span> greater than 125 or 150GeV<span class="sup">2</span>)', 938, 145],
 ['(×18000)', 938, 163], ['(Q<span class="sup">2</span> from 5.5 to 80GeV<span class="sup">2</span>)', 938, 172.5],
 ['(×8000)', 938, 184], ['(Q<span class="sup">2</span> greater than 125 or 150GeV<span class="sup">2</span>)', 938, 194],
 ['(×3000)', 963, 211], ['(×1000)', 995, 240], ['(×300)', 1056, 273], ['(×100)', 1067, 303],
 ['(×30)', 1067, 334], ['(×10)', 1125, 364.5], ['(×3)', 1132, 397], ['(×1)', 1145, 427]
];
kLabels.forEach(l => put(l[0], l[1], l[2]+3, 8.5));
// right legend
const KT = 'k<span class="sub">t</span>';
const legR = [
 {h:'200 GeV', y:76}, {m:'●', c:RED, t:'STAR cone R=0.4', y:88.7},
 {h:'300 GeV', y:107}, {m:'■▲▼○', c:BLUE, n:'H1', y:118}, {m:'●■▲▼□', c:RED, n:'ZEUS', y:128},
 {h:'320 GeV', y:145.5}, {m:'●■▲▼□○◇', c:BLUE, n:'H1', y:157}, {m:'●■▲▼□', c:BLUE, n:'H1', y:167}, {m:'●■▲▼□', c:RED, n:'ZEUS', y:177},
 {h:'546 GeV', y:197}, {m:'▲', c:BLUE, t:'CDF cone R=0.7', y:209},
 {h:'630 GeV', y:224}, {m:'●', c:RED, t:'D0&nbsp;&nbsp;cone R=0.7', y:238},
 {h:'1.8 TeV', y:250.5}, {m:'●', c:RED, t:'D0&nbsp;&nbsp;cone R=0.7', y:264}, {m:'▲', c:BLUE, t:'CDF cone R=0.7', y:274.5},
 {h:'1.96 TeV', y:291.7}, {m:'●', c:RED, t:'D0 midp. cone R=0.7', y:302.7}, {m:'▲□', c:BLUE, t:'CDF midp. cone, or '+KT+' R=0.7', y:312.7},
 {h:'2.76 TeV', y:329.3}, {m:'▲', c:BLUE, t:'ATLAS anti-'+KT+' R=0.6', y:340.7}, {m:'●', c:RED, t:'CMS anti-'+KT+' R=0.7', y:350.7},
 {h:'7 TeV', y:367.3}, {m:'▲', c:BLUE, t:'ATLAS anti-'+KT+' R=0.6', y:378.3}, {m:'●', c:RED, t:'CMS anti-'+KT+' R=0.7', y:388.3},
 {h:'8 TeV', y:405.7}, {m:'▲', c:BLUE, t:'ATLAS anti-'+KT+' R=0.6', y:416.7}, {m:'●', c:RED, t:'CMS anti-'+KT+' R=0.7', y:426.3},
 {h:'13 TeV', y:443.3}, {m:'▲', c:BLUE, t:'ATLAS anti-'+KT+' R=0.4', y:454.3}, {m:'●', c:RED, t:'CMS anti-'+KT+' R=0.7', y:464}
];
legR.forEach(e => {
  if (e.h) { put('√<span class="rad">s</span> = ' + e.h, 707, e.y+4.5, 12.5); return; }
  if (e.n) {
    put(e.m, 733, e.y+2.5, 6.5, {align: 'right', color: e.c});
    put(e.n, 735.5, e.y+3, 8.5);
    put(KT + ' R=1.0', 762, e.y+3, 8.5);
  } else {
    if (e.m.length > 1) put(e.m, 722, e.y+2.5, 6.5, {align: 'right', color: e.c});
    else put(e.m, 717, e.y+2.5, 6.5, {align: 'center', color: e.c});
    put(e.t, 730, e.y+3, 8.5);
  }
});
// notes
put('pQCD calculations in NNLO, aNNLO, or NLO', 839, 450, 10.5);
put('α<span class="sub">s</span>(M<span class="sub">Z</span>)=0.118 | PDF4LHC21 | μ<span class="sub">r</span><span class="sup">2</span>=μ<span class="sub">f</span><span class="sup">2</span>=p<span class="sup">2</span><span class="sub">T,jet</span> <span style="font-size:7.5px">(in DIS: μ<span class="sup">2</span>=Q<span class="sup">2</span>+p<span class="sup">2</span><span class="sub">T,jet</span>)</span>', 839, 461.7, 10.5);
put('pQCD with non-perturbative and electroweak corrections', 839, 473, 10.5);
</script>
</body>
</html>
